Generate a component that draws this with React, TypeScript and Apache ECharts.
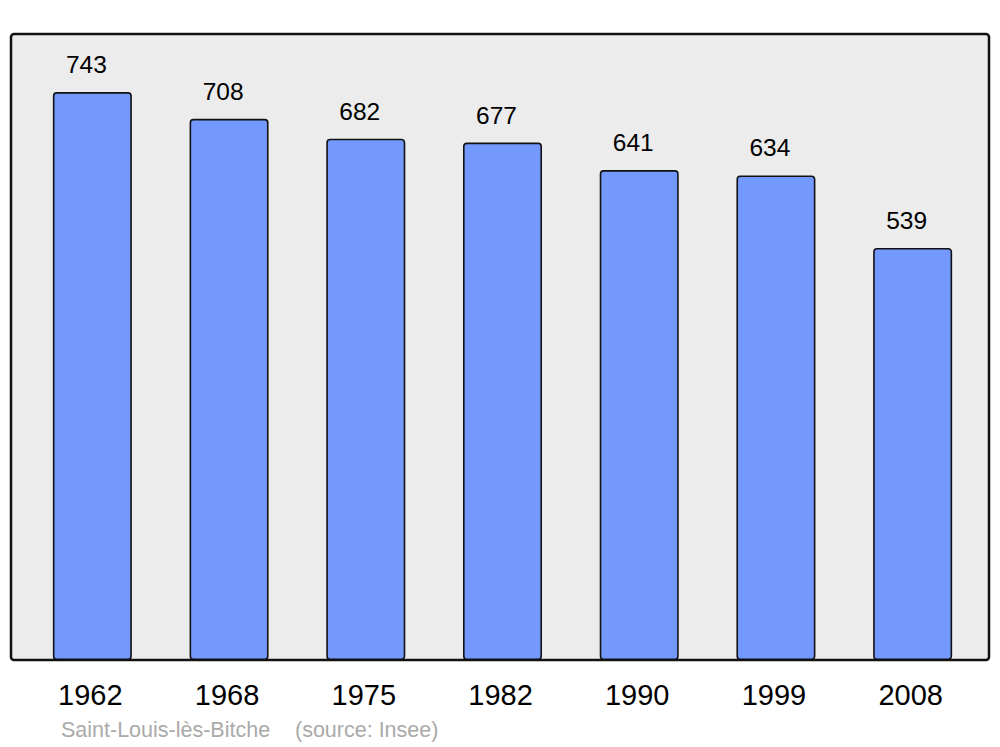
import React, { useEffect, useRef } from "react";
import * as echarts from "echarts";

const years = ["1962", "1968", "1975", "1982", "1990", "1999", "2008"];
const population = [743, 708, 682, 677, 641, 634, 539];
const footerTitle = "Saint-Louis-lès-Bitche";
const footerSource = "(source: Insee)";

export default function App() {
  const ref = useRef<HTMLDivElement>(null);
  useEffect(() => {
    const chart = echarts.init(ref.current!, null, { renderer: "svg" });
    chart.setOption({
      animation: false,
      backgroundColor: "#ffffff",
      textStyle: { fontFamily: "Liberation Sans, Arial, sans-serif" },
      graphic: [
        {
          type: "rect",
          z: -10,
          silent: true,
          shape: { x: 11, y: 34, width: 978, height: 626, r: 3 },
          style: { fill: "#ececec", stroke: "#111111", lineWidth: 2.5 },
        },
        {
          type: "text",
          left: 61,
          top: 719,
          style: {
            text: footerTitle,
            fill: "#aaaaaa",
            font: "21.5px 'Liberation Sans', Arial, sans-serif",
          },
        },
        {
          type: "text",
          left: 295,
          top: 719,
          style: {
            text: footerSource,
            fill: "#aaaaaa",
            font: "21.5px 'Liberation Sans', Arial, sans-serif",
          },
        },
      ],
      grid: { left: 24, right: 19, top: 34, bottom: 87, containLabel: false },
      xAxis: {
        type: "category",
        data: years,
        axisLine: { show: false },
        axisTick: { show: false },
        axisLabel: {
          color: "#000000",
          fontSize: 29,
          margin: 20,
          padding: [0, 4, 0, 0],
          fontFamily: "Liberation Sans, Arial, sans-serif",
        },
      },
      yAxis: {
        type: "value",
        min: 0,
        max: 819,
        show: false,
        splitLine: { show: false },
      },
      series: [
        {
          type: "bar",
          data: population,
          barWidth: 79,
          itemStyle: {
            color: "#7399ff",
            borderColor: "#111111",
            borderWidth: 1.6,
            borderRadius: 3,
          },
          label: {
            show: true,
            position: "top",
            distance: 15,
            offset: [-6, 0],
            color: "#000000",
            fontSize: 24.5,
            fontFamily: "Liberation Sans, Arial, sans-serif",
          },
        },
      ],
    });
    return () => chart.dispose();
  }, []);
  return (
    <div
      ref={ref}
      style={{ position: "fixed", left: 0, top: 0, width: 1000, height: 747 }}
    />
  );
}
